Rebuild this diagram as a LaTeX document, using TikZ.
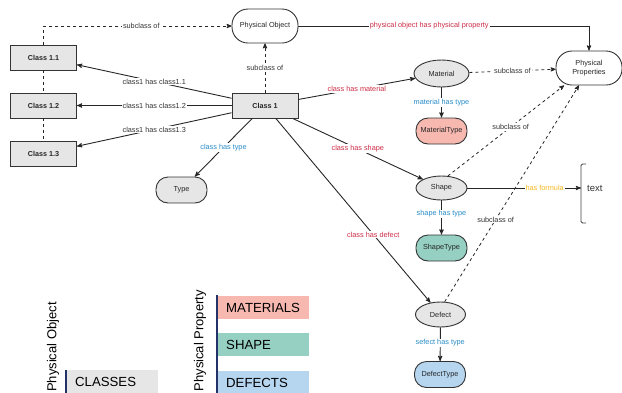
\documentclass[tikz,border=0pt]{standalone}
\usepackage{fontspec}
\setmainfont{Liberation Sans}
\usetikzlibrary{arrows, positioning, shapes.geometric}
\definecolor{boxgray}{RGB}{230,230,230}
\definecolor{matpink}{RGB}{247,184,176}
\definecolor{shapeteal}{RGB}{150,208,194}
\definecolor{defblue}{RGB}{182,214,240}
\definecolor{relred}{RGB}{205,45,70}
\definecolor{relblue}{RGB}{40,140,200}
\definecolor{relyellow}{RGB}{245,185,30}
\definecolor{navy}{RGB}{35,50,105}
\tikzstyle{classbox}=[rectangle, draw=black!80, fill=boxgray, line width=0.9pt, minimum width=66pt, minimum height=25pt, text=black!85, font=\fontsize{7.2}{8}\selectfont\bfseries]
\tikzstyle{concept}=[rectangle, rounded corners=12pt, draw=black!80, line width=0.9pt, minimum width=51pt, minimum height=26pt, text=black!85, font=\fontsize{7.3}{8.8}\selectfont]
\tikzstyle{prop}=[ellipse, draw=black!80, fill=boxgray, line width=0.9pt, minimum width=51pt, minimum height=25pt, inner sep=0pt, text=black!85, font=\fontsize{7.3}{8}\selectfont]
\tikzstyle{rel}=[line width=0.9pt, draw=black!85, ->]
\tikzstyle{sub}=[line width=0.8pt, draw=black!85, dashed, ->]
\tikzstyle{lbl}=[fill=white, inner sep=1pt, text=black!80, font=\fontsize{7.3}{8}\selectfont]
\tikzstyle{legendbox}=[rectangle, anchor=north west, minimum height=23pt, text width=74pt, inner xsep=9pt, align=left, font=\fontsize{13.2}{14}\selectfont]
\tikzstyle{legendtitle}=[rotate=90, anchor=east, inner sep=0pt, font=\fontsize{13}{14}\selectfont]

\begin{document}
\begin{tikzpicture}[x=1pt, y=-1pt, >=stealth']
  \useasboundingbox (0,0) rectangle (622,392);

  % classes
  \node[classbox] (c11) at (43.5,57.5) {Class 1.1};
  \node[classbox] (c12) at (43.5,105.5) {Class 1.2};
  \node[classbox] (c13) at (43.5,153.5) {Class 1.3};
  \node[classbox] (c1)  at (265,105.5) {Class 1};
  \node[concept, minimum width=66pt, minimum height=34pt, rounded corners=16pt] (po) at (265,26) {Physical Object};
  \node[concept, fill=boxgray] (type) at (181.5,190) {Type};

  % properties
  \node[concept, minimum width=66pt, minimum height=34pt, rounded corners=16pt, align=center] (pp) at (589,68) {Physical\\Properties};
  \node[prop, minimum width=55pt, minimum height=27pt] (mat) at (441.5,73.5) {Material};
  \node[concept, fill=matpink] (mattype) at (441.5,131) {MaterialType};
  \node[prop, minimum height=24pt] (shp) at (441.5,188) {Shape};
  \node[concept, fill=shapeteal] (shptype) at (441.5,248) {ShapeType};
  \node[prop, minimum width=50pt] (def) at (440.5,314.5) {Defect};
  \node[concept, fill=defblue] (deftype) at (440,374.5) {DefectType};

  % annotation
  \node[anchor=west, inner sep=0pt, text=black!80, font=\fontsize{9.5}{10}\selectfont] (note) at (587,188) {text};
  \coordinate (brtop) at (581,164);
  \coordinate (brbot) at (581,223);
  \draw[line width=0.8pt, draw=black!75, rounded corners=1.5pt] ([xshift=5pt]brtop) -- (brtop) -- (brbot) -- ([xshift=5pt]brbot);

  % class relations
  \draw[sub] (c11.north) |- node[lbl, pos=0.76] {subclass of} (po.west);
  \draw[line width=0.8pt, dashed, draw=black!85] (c11) -- (c12);
  \draw[line width=0.8pt, dashed, draw=black!85] (c12) -- (c13);
  \draw[sub] (c1) -- node[lbl] {subclass of} (po);
  \draw[rel] (c1) -- node[lbl] {class1 has class1.1} (c11);
  \draw[rel] (c1) -- node[lbl] {class1 has class1.2} (c12);
  \draw[rel] (c1) -- node[lbl] {class1 has class1.3} (c13);
  \draw[rel] (c1) -- node[lbl, text=relblue] {class has type} (type);
  \draw[rel] (c1) -- node[lbl, text=relred] {class has material} (mat);
  \draw[rel] (c1) -- node[lbl, text=relred] {class has shape} (shp);
  \draw[rel] (c1) -- node[lbl, text=relred, pos=0.63] {class has defect} (def);
  \draw[rel] (po.east) -- node[lbl, text=relred, pos=0.45] {physical object has physical property} (po.east -| pp.north) -- (pp.north);

  % property relations
  \draw[sub] (mat) -- node[lbl] {subclass of} (pp);
  \draw[sub] (shp.62) -- node[lbl, pos=0.54] {subclass of} (pp.215);
  \draw[sub] (def.72) -- node[lbl, pos=0.38] {subclass of} (pp.240);
  \draw[rel] (mat) -- node[lbl, text=relblue] {material has type} (mattype);
  \draw[rel] (shp) -- node[lbl, text=relblue, pos=0.4] {shape has type} (shptype);
  \draw[rel] (def) -- node[lbl, text=relblue, pos=0.46] {sefect has type} (deftype);
  \draw[rel] (shp) -- node[lbl, text=relyellow, pos=0.68] {has formula} (shp -| brtop);

  % legend
  \node[legendtitle] (lpo) at (53,302) {Physical Object};
  \node[legendbox, fill=boxgray] (lcls) at (66,370) {CLASSES};
  \draw[line width=2pt, draw=navy] (lcls.north west) -- ([yshift=-10pt]lcls.south west);
  \node[legendtitle] (lpp) at (200,290) {Physical Property};
  \node[legendbox, fill=matpink] (lmat) at (217,296) {MATERIALS};
  \node[legendbox, fill=shapeteal] (lshp) at (217,333) {SHAPE};
  \node[legendbox, fill=defblue] (ldef) at (217,371) {DEFECTS};
  \draw[line width=2pt, draw=navy] ([yshift=1pt]lmat.north west) -- ([yshift=-10pt]ldef.south west);
\end{tikzpicture}
\end{document}
